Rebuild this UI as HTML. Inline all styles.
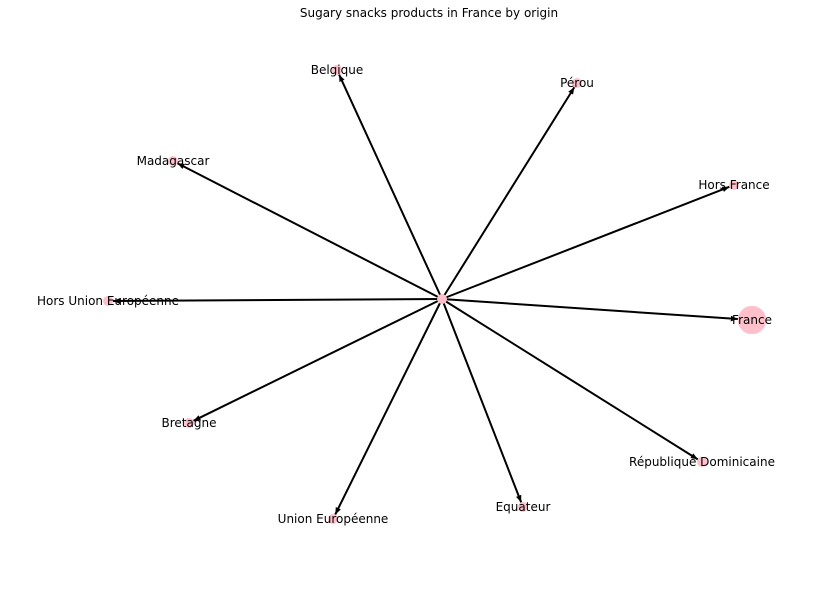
<!DOCTYPE html>
<html><head><meta charset="utf-8"><style>
html,body{margin:0;padding:0;background:#fff;}
svg{display:block;font-family:"DejaVu Sans","Liberation Sans",sans-serif;}
</style></head><body>
<svg id="chart" width="830" height="590" viewBox="0 0 830 590">
<text x="429" y="17" text-anchor="middle" font-size="12" fill="#000">Sugary snacks products in France by origin</text>
<defs><marker id="arr" viewBox="0 0 10 10" refX="10" refY="5" markerWidth="7" markerHeight="7" markerUnits="userSpaceOnUse" orient="auto"><path d="M0,1 L10,5 L0,9 z" fill="#000"/></marker></defs>
<g id="edges"></g><g id="nodes"></g><g id="labels"></g>
</svg>
<script>
const nodeNames = ["Belgique","Pérou","Madagascar","Hors France","Hors Union Européenne","France","Bretagne","République Dominicaine","Union Européenne","Equateur"];
const nodeCounts = [1,1,1,1,1,8,1,1,1,1];
// layout (spring layout output, not data)
const layoutX = [337,577,173,734,108,752,189,702,333,523];
const layoutY = [70,83,161,185,301,320,423,462,519,507];
const center = {x:442,y:299};
const NS="http://www.w3.org/2000/svg";
const eg=document.getElementById('edges'),ng=document.getElementById('nodes'),lg=document.getElementById('labels');
function rad(c){return c>1?4+Math.sqrt(c)*3.6:5;}
const c0=document.createElementNS(NS,'circle');
c0.setAttribute('cx',center.x);c0.setAttribute('cy',center.y);c0.setAttribute('r',5);c0.setAttribute('fill','#ffc0cb');


ng.appendChild(c0);
nodeNames.forEach((n,i)=>{
  const x=layoutX[i],y=layoutY[i],r=rad(nodeCounts[i]);
  const dx=x-center.x,dy=y-center.y,d=Math.hypot(dx,dy);
  const l=document.createElementNS(NS,'line');
  l.setAttribute('x1',center.x);l.setAttribute('y1',center.y);
  l.setAttribute('x2',x-dx/d*r);l.setAttribute('y2',y-dy/d*r);
  l.setAttribute('stroke','#000');l.setAttribute('stroke-width','2');l.setAttribute('marker-end','url(#arr)');
  
  
  eg.appendChild(l);
  const c=document.createElementNS(NS,'circle');
  c.setAttribute('cx',x);c.setAttribute('cy',y);c.setAttribute('r',r);c.setAttribute('fill','#ffc0cb');
  
  
  ng.appendChild(c);
  const t=document.createElementNS(NS,'text');
  t.setAttribute('x',x);t.setAttribute('y',y+4);t.setAttribute('text-anchor','middle');t.setAttribute('font-size','12');
  t.textContent=n;
  
  
  lg.appendChild(t);
});
</script>
</body></html>
